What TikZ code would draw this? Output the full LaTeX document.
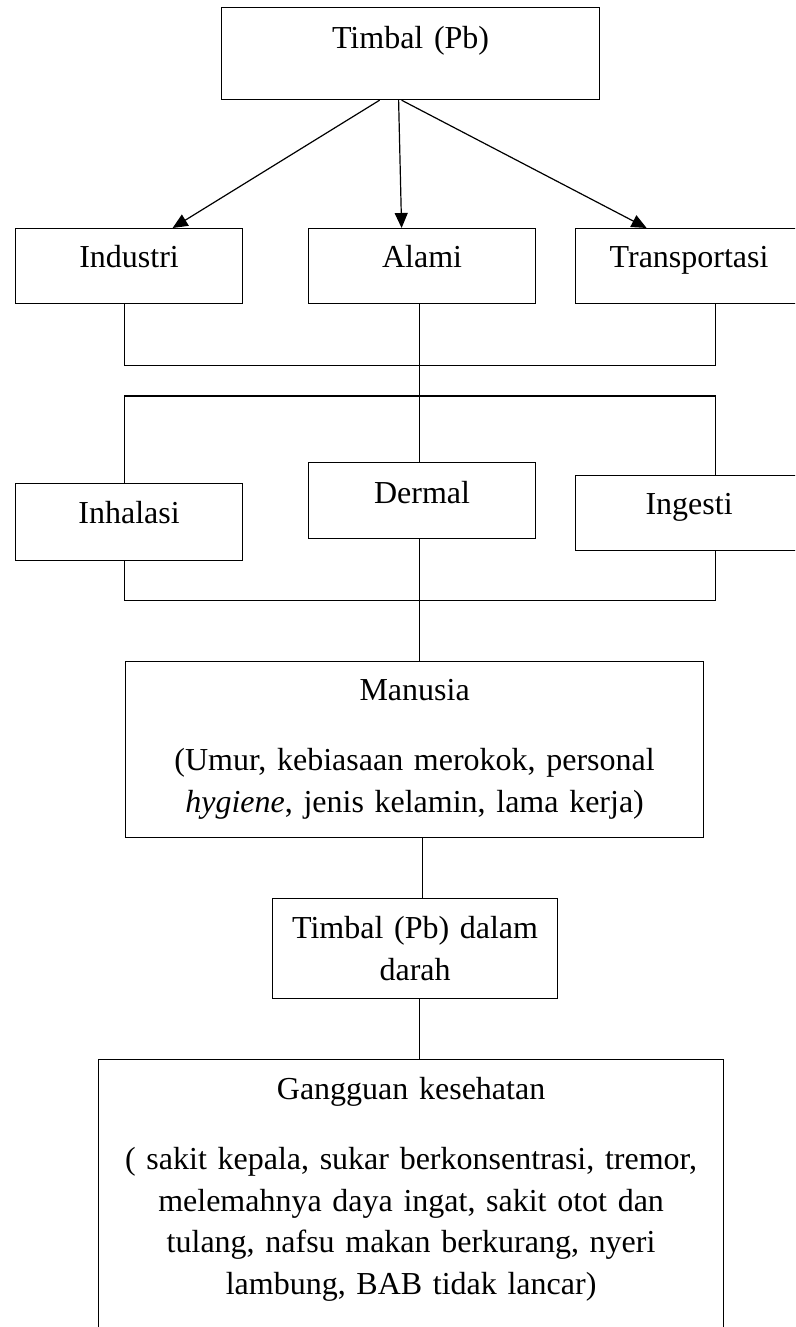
\documentclass[tikz,border=0pt]{standalone}
\usepackage{fontspec}
\setmainfont{Liberation Serif}
\usetikzlibrary{arrows.meta}

\tikzset{
    kotak/.style={draw, inner sep=0pt, anchor=north west, align=center,
        font=\fontsize{32}{41.5}\selectfont},
}

\begin{document}
\begin{tikzpicture}[x=1pt, y=-1pt, line width=1.2pt, >={Triangle[length=15pt, width=13pt]}]
    \clip (0, 0) rectangle (795, 1327);

    \node[kotak, text width=378pt, text height=41pt, text depth=51pt] (pb) at (221, 7) {Timbal (Pb)};

    \node[kotak, text width=227pt, text height=39pt, text depth=36pt] (industri) at (15, 228) {Industri};
    \node[kotak, text width=227pt, text height=39pt, text depth=36pt] (alami) at (308, 228) {Alami};
    \node[kotak, text width=227pt, text height=39pt, text depth=36pt] (transport) at (575, 228) {Transportasi};

    \node[kotak, text width=227pt, text height=40pt, text depth=37pt] (inhalasi) at (15, 483) {Inhalasi};
    \node[kotak, text width=227pt, text height=41pt, text depth=35pt] (dermal) at (308, 462) {Dermal};
    \node[kotak, text width=227pt, text height=39pt, text depth=36pt] (ingesti) at (575, 475) {Ingesti};

    \node[kotak, text width=578pt, text height=39pt, text depth=137pt] (manusia) at (125, 661)
        {Manusia\\[28.5pt] (Umur, kebiasaan merokok, personal\\ \textit{hygiene}, jenis kelamin, lama kerja)};

    \node[kotak, text width=285pt, text height=40pt, text depth=60pt] (darah) at (272, 898)
        {Timbal (Pb) dalam\\ darah};

    \node[kotak, text width=625pt, text height=40pt, text depth=281pt] (gangguan) at (98, 1059)
        {Gangguan kesehatan\\[28.5pt] ( sakit kepala, sukar berkonsentrasi, tremor,\\ melemahnya daya ingat, sakit otot dan\\
        tulang, nafsu makan berkurang, nyeri\\ lambung, BAB tidak lancar)};

    \draw[->] ([xshift=-31pt]pb.south) -- ([xshift=43.5pt]industri.north);
    \draw[->] ([xshift=-12pt]pb.south) -- ([xshift=-20.5pt]alami.north);
    \draw[->] ([xshift=-9pt]pb.south) -- ([xshift=-42.5pt]transport.north);

    \draw ([xshift=-4.5pt]industri.south) -- ++(0, 61) -| ([xshift=26.5pt]transport.south);
    \draw ([xshift=-2.5pt]alami.south) -- ([xshift=-2.5pt]dermal.north);
    \draw ([xshift=-4.5pt]inhalasi.north) -- ++(0, -87) -| ([xshift=26.5pt]ingesti.north);
    \draw ([xshift=-4.5pt]inhalasi.south) -- ++(0, 39) -| ([xshift=26.5pt]ingesti.south);

    \draw ([xshift=-2.5pt]dermal.south) -- ([xshift=-2.5pt]dermal.south |- manusia.north);
    \draw ([xshift=8pt]manusia.south) -- ([xshift=8pt]manusia.south |- darah.north);
    \draw ([xshift=4.5pt]darah.south) -- ([xshift=4.5pt]darah.south |- gangguan.north);
\end{tikzpicture}
\end{document}
